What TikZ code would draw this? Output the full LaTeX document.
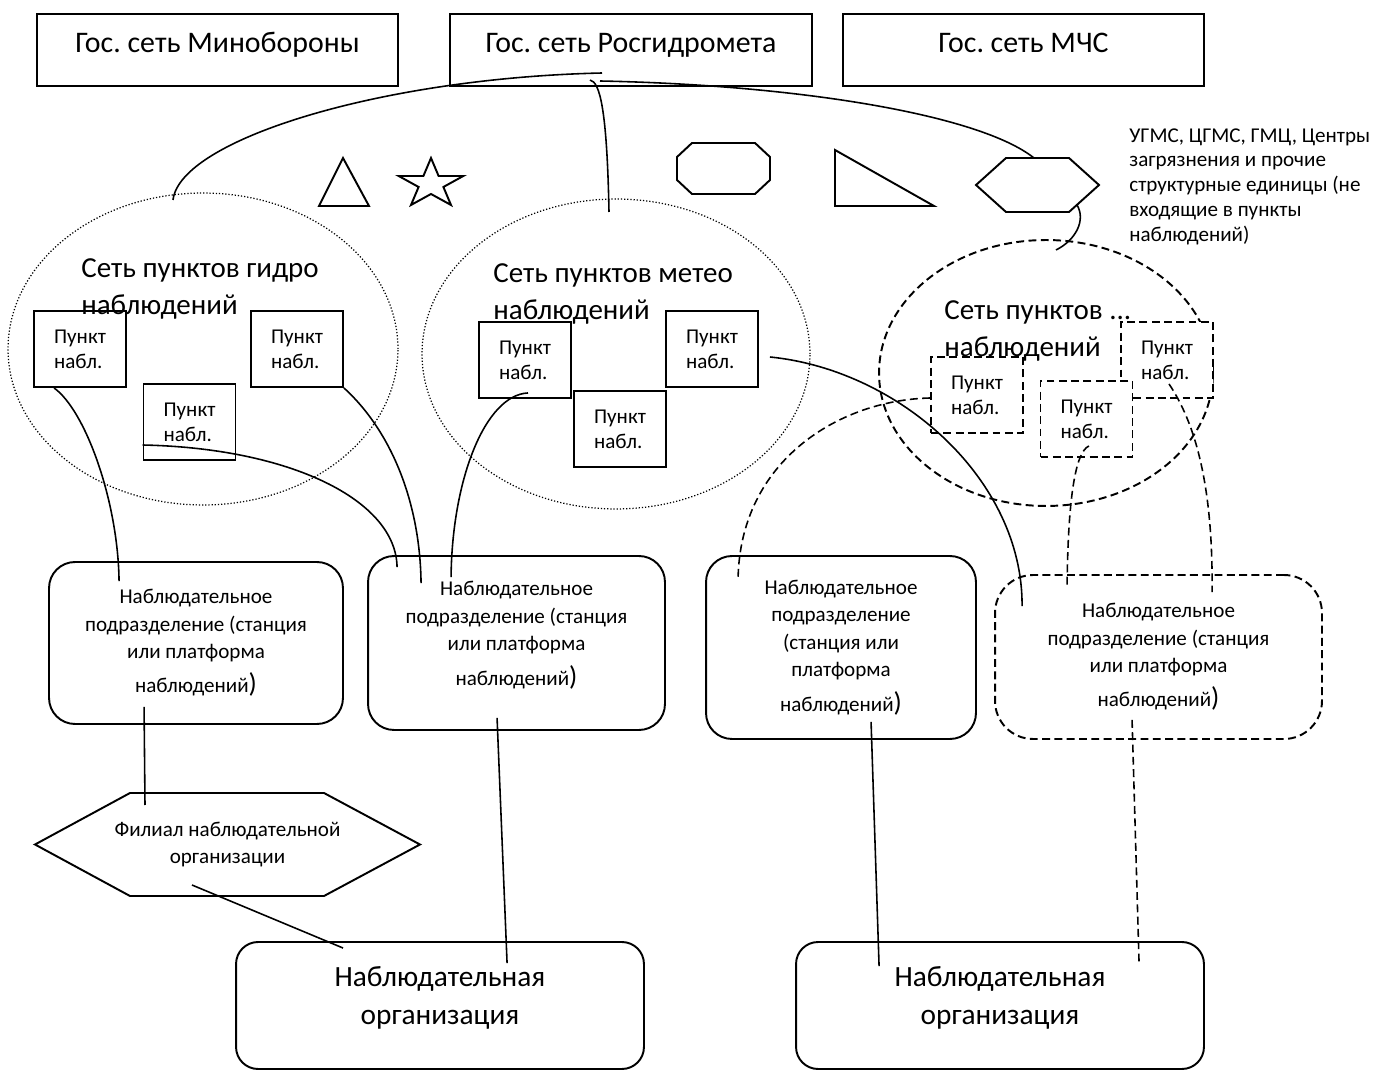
\documentclass[tikz,border=0pt]{standalone}
\usepackage{fontspec}
\setmainfont{Carlito}
\usetikzlibrary{shapes.geometric,calc}
\frenchspacing

\newcommand{\bigparen}{{\fontsize{15.5}{15.5}\selectfont)}}
\newcommand{\lift}[1]{\raisebox{4.5pt}[\height][\depth]{#1}}

\begin{document}
\begin{tikzpicture}[x=0.02cm,y=-0.02cm,
    netbox/.style={draw,line width=1.1pt,minimum width=7.22cm,minimum height=1.44cm,
        font=\fontsize{17}{20}\selectfont,text height=12.5pt,text depth=9.1pt},
    netlbl/.style={anchor=north west,inner sep=0pt,align=left,font=\fontsize{16.5}{21}\selectfont},
    netell/.style={ellipse,draw,inner sep=0pt},
    dots/.style={line width=0.7pt,dash pattern=on 0.7pt off 1.1pt},
    dashes/.style={dash pattern=on 4.5pt off 2.5pt},
    punkt/.style={draw,fill=white,line width=1.1pt,minimum width=1.84cm,minimum height=1.52cm,
        align=left,font=\fontsize{12}{14.2}\selectfont},
    unitbox/.style={draw,line width=1.1pt,rounded corners=0.52cm,align=center,
        font=\fontsize{12}{15.6}\selectfont},
    orgbox/.style={draw,line width=1.1pt,rounded corners=0.44cm,minimum width=8.16cm,
        minimum height=2.54cm,align=center,font=\fontsize{16.7}{21.8}\selectfont},
    fig/.style={line width=1.1pt,line join=miter},
    link/.style={line width=0.9pt}]

    \useasboundingbox (0,0) rectangle (1376,1070);

    % state networks
    \node[netbox] (mo) at (217.5,50) {Гос. сеть Минобороны};
    \node[netbox,minimum width=7.24cm] (rgm) at (631,50) {Гос. сеть Росгидромета};
    \node[netbox] (mchs) at (1023.5,50) {Гос. сеть МЧС};

    %%%%%%%%%%%%%%%%%%%%%%%%%%%%%%%%%%%%%%%%%%%%%%%%%%%%%%

    % networks of observation points
    \node[netell,dots,minimum width=7.8cm,minimum height=6.24cm] (hydro) at (203,349) {};
    \node[netell,dots,minimum width=7.76cm,minimum height=6.2cm] (meteo) at (616,354) {};
    \node[netell,line width=1.1pt,dashes,minimum width=6.68cm,minimum height=5.32cm] (other) at (1046,373) {};

    % structural units (shapes)
    \draw[fig] (343,158) -- (369,206) -- (319,206) -- cycle;
    \draw[fig] (431,158) -- (438.6,176) -- (463.3,176) -- (443.4,187) -- (451,205) -- (431,194)
        -- (411,205) -- (418.6,187) -- (398.7,176) -- (423.4,176) -- cycle;
    \draw[fig] (692,143) -- (755,143) -- (770,157) -- (770,180) -- (755,194) -- (692,194)
        -- (677,180) -- (677,157) -- cycle;
    \draw[fig] (835,150) -- (934,206) -- (835,206) -- cycle;
    \draw[fig] (1006,158) -- (1069,158) -- (1099,185) -- (1069,212) -- (1006,212) -- (976,185) -- cycle;
    \coordinate (hexTop) at (1034,158);
    \coordinate (hexEdge) at (1077,205);

    % note on structural units
    \node[anchor=north west,inner sep=0pt,align=left,font=\fontsize{12}{14.2}\selectfont] (ugms) at (1129,128)
        {УГМС, ЦГМС, ГМЦ, Центры\\загрязнения и прочие\\структурные единицы (не\\входящие в пункты\\наблюдений)};

    %%%%%%%%%%%%%%%%%%%%%%%%%%%%%%%%%%%%%%%%%%%%%%%%%%%%%%

    % hydro points
    \node[punkt] (p1) at (80,349) {Пункт\\набл.};
    \node[punkt] (p2) at (297,349) {Пункт\\набл.};
    \node[punkt] (p3) at (189.5,422) {Пункт\\набл.};
    \node[netlbl] (hydrolbl) at (81,258) {Сеть пунктов гидро\\наблюдений};

    % meteo points
    \node[punkt] (q1) at (525,360) {Пункт\\набл.};
    \node[punkt] (q2) at (712,349) {Пункт\\набл.};
    \node[punkt] (q3) at (620,429) {Пункт\\набл.};
    \node[netlbl] (meteolbl) at (493,263) {Сеть пунктов метео\\наблюдений};

    % other points
    \node[punkt,dashes] (m3) at (1167,360) {Пункт\\набл.};
    \node[punkt,dashes] (m2) at (1086.5,419) {Пункт\\набл.};
    \node[punkt,dashes] (m1) at (977,395) {Пункт\\набл.};
    \node[netlbl] (otherlbl) at (944,300) {Сеть пунктов ...\\наблюдений};

    %%%%%%%%%%%%%%%%%%%%%%%%%%%%%%%%%%%%%%%%%%%%%%%%%%%%%%

    % observation subdivisions
    \node[unitbox,minimum width=5.88cm,minimum height=3.24cm] (s1) at (196,643)
        {Наблюдательное\\подразделение (станция\\или платформа\\[4pt]наблюдений\bigparen};
    \node[unitbox,minimum width=5.94cm,minimum height=3.48cm] (s2) at (516.5,643)
        {\lift{Наблюдательное}\\\lift{подразделение (станция}\\\lift{или платформа}\\[4pt]\lift{наблюдений\bigparen}};
    \node[unitbox,minimum width=5.4cm,minimum height=3.66cm] (s3) at (841,647.5)
        {Наблюдательное\\подразделение\\(станция или\\платформа\\[4pt]наблюдений\bigparen};
    \node[unitbox,dashes,rounded corners=0.76cm,minimum width=6.54cm,minimum height=3.28cm] (s4) at (1158.5,657)
        {Наблюдательное\\подразделение (станция\\или платформа\\[4pt]наблюдений\bigparen};

    % branch
    \draw[fig] (35,844.5) -- (130,793) -- (324,793) -- (420,844.5) -- (324,896) -- (130,896) -- cycle;
    \node[align=center,font=\fontsize{12}{15.3}\selectfont] (branch) at (227.5,844.5)
        {Филиал наблюдательной\\организации};

    % organisations
    \node[orgbox] (o1) at (440,1005.5) {\lift{Наблюдательная}\\\lift{организация}};
    \node[orgbox] (o2) at (1000,1005.5) {\lift{Наблюдательная}\\\lift{организация}};

    %%%%%%%%%%%%%%%%%%%%%%%%%%%%%%%%%%%%%%%%%%%%%%%%%%%%%%

    % links of the state network
    \draw[link] ($(rgm.center)+(-29,23)$) .. controls (380,78) and (180,140) .. ($(hydro.center)+(-30,-149)$);
    \draw[link] ($(rgm.center)+(-41,30)$) .. controls (600,82) and (607,110) .. ($(meteo.center)+(-7,-142)$);
    \draw[link] ($(rgm.center)+(-31,31)$) .. controls (800,85) and (980,115) .. (hexTop);
    \draw[link] (hexEdge) .. controls (1086,220) and (1076,240) .. ($(other.center)+(10,-123)$);

    % points to subdivisions
    \draw[link] ($(p1.south west)+(21,0)$) .. controls (85,410) and (118,500) .. ($(s1.north west)+(71,20)$);
    \draw[link] ($(p3.west)+(0,23)$) .. controls (290,448) and (396,500) .. ($(s2.north west)+(30,12)$);
    \draw[link] (p2.south east) .. controls (390,430) and (420,500) .. ($(s2.north west)+(54,28)$);
    \draw[link] ($(q1.south)+(3,-6)$) .. controls (485,395) and (452,480) .. ($(s2.north west)+(84,22)$);
    \draw[link] ($(q2.east)+(11,8)$) .. controls (900,370) and (1023,480) .. ($(s4.north west)+(28,32)$);
    \draw[link,dashes] ($(m1.west)+(0,3)$) .. controls (840,400) and (740,460) .. ($(s3.north west)+(33,24)$);
    \draw[link,dashes] ($(m2.south)+(2.5,-12)$) .. controls (1075,452) and (1068,500) .. ($(s4.north west)+(73,12)$);
    \draw[link,dashes] ($(m3.south)+(2,-15)$) .. controls (1200,430) and (1213,500) .. ($(s4.north west)+(218,18)$);

    % subdivisions to organisations
    \draw[link] ($(s1.south west)+(96,-18)$) -- ($(branch.center)+(-82.5,-39.5)$);
    \draw[link] ($(branch.center)+(-35.5,40.5)$) -- ($(o1.north west)+(108,7)$);
    \draw[link] ($(s2.south west)+(130,-13)$) -- ($(o1.north west)+(272,22)$);
    \draw[link] ($(s3.south west)+(166,-18)$) -- ($(o2.north west)+(84,25)$);
    \draw[link,dashes] ($(s4.south west)+(138,-20)$) -- ($(o2.north west)+(344,22)$);

\end{tikzpicture}
\end{document}
